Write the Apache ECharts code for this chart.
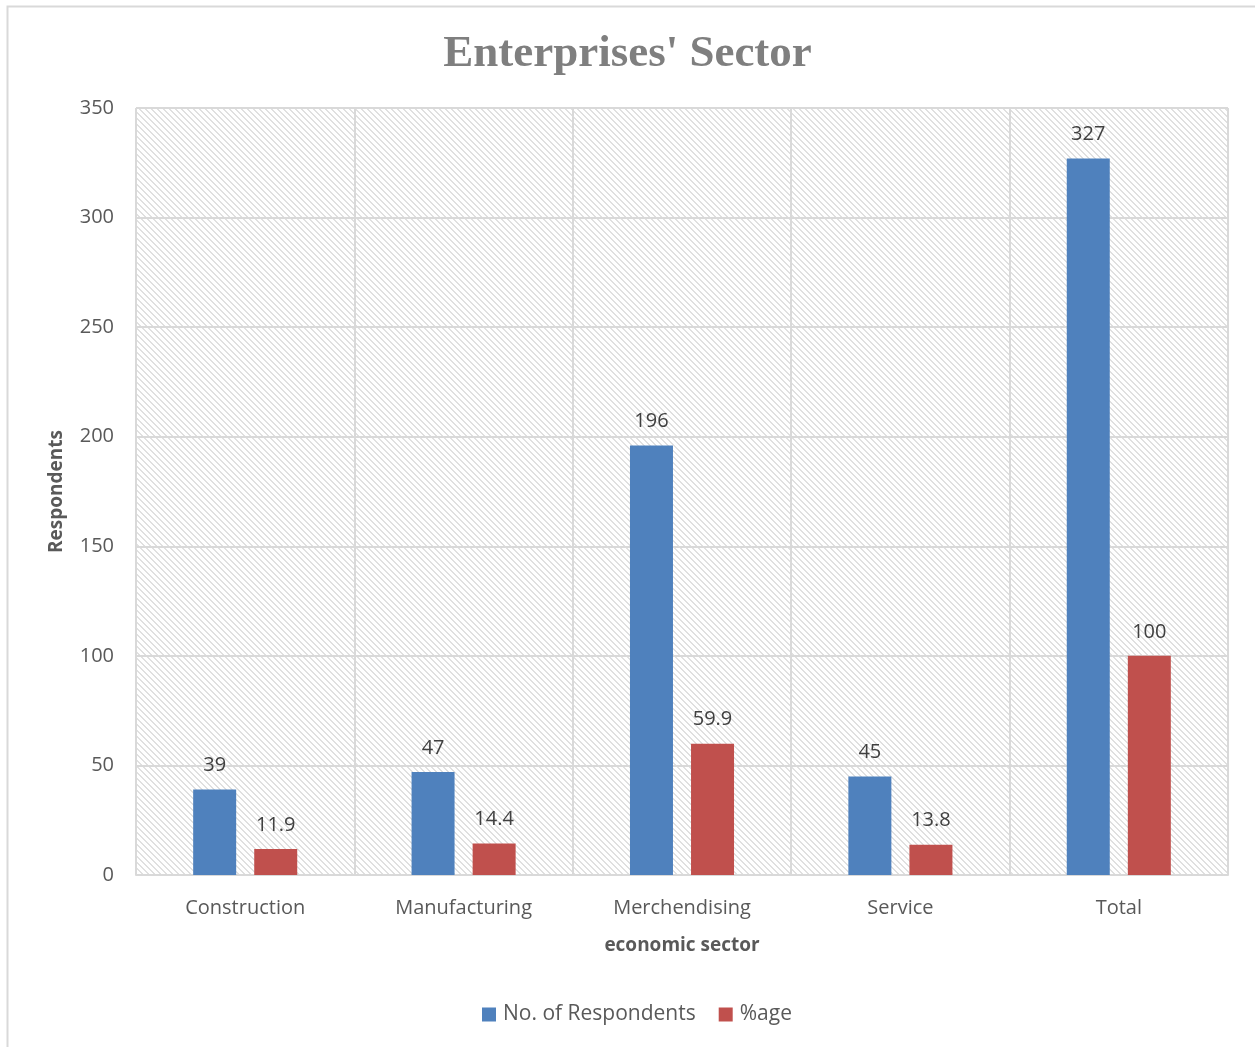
<!DOCTYPE html>
<html>
<head>
<meta charset="utf-8">
<title>Enterprises' Sector</title>
<script src="https://cdn.jsdelivr.net/npm/echarts@6/dist/echarts.min.js"></script>
<style>
  html, body { margin: 0; padding: 0; background: #ffffff; }
  #chart { width: 1255px; height: 1047px; }
</style>
</head>
<body>
<div id="chart"></div>
<script>
// Survey breakdown by economic sector
const categories = ['Construction', 'Manufacturing', 'Merchendising', 'Service', 'Total'];
const respondents = [39, 47, 196, 45, 327];
const percentage = [11.9, 14.4, 59.9, 13.8, 100];
const yTicks = { min: 0, max: 350, step: 50 };

// Light diagonal hatch used as the plot area fill
function hatchTile() {
  const c = document.createElement('canvas');
  const n = 6;
  c.width = n; c.height = n;
  const ctx = c.getContext('2d');
  ctx.fillStyle = '#ffffff';
  ctx.fillRect(0, 0, n, n);
  ctx.fillStyle = '#e0e0e0';
  for (let i = 0; i < n; i++) {
    ctx.fillRect(i, i, 1, 1);
    ctx.fillRect((i + 1) % n, i, 1, 1);
  }
  return c;
}

const chart = echarts.init(document.getElementById('chart'), null, { renderer: 'canvas' });
const labelFont = 'Open Sans, Liberation Sans, sans-serif';

chart.setOption({
  backgroundColor: '#ffffff',
  animation: false,
  title: {
    text: "Enterprises' Sector",
    left: 'center',
    top: 27,
    textStyle: {
      fontFamily: 'Liberation Serif, DejaVu Serif, serif',
      fontWeight: 'bold',
      fontSize: 45,
      color: '#7f7f7f'
    }
  },
  graphic: [{
    type: 'rect',
    left: 5, top: 4,
    shape: { width: 1300, height: 1100 },
    style: { fill: 'none', stroke: '#d9d9d9', lineWidth: 2 },
    silent: true, z: 100
  }],
  legend: {
    bottom: 17,
    left: 477,
    itemWidth: 14,
    itemHeight: 14,
    itemGap: 23,
    icon: 'rect',
    textStyle: { fontFamily: labelFont, fontSize: 21, color: '#595959', padding: [0, 0, 0, 2] },
    data: ['No. of Respondents', '%age']
  },
  grid: {
    left: 136, right: 27, top: 108, bottom: 172,
    show: true,
    borderWidth: 0,
    backgroundColor: { image: hatchTile(), repeat: 'repeat' }
  },
  xAxis: {
    type: 'category',
    data: categories,
    name: 'economic sector',
    nameLocation: 'middle',
    nameGap: 61,
    nameTextStyle: { fontFamily: labelFont, fontSize: 19, fontWeight: 'bold', color: '#595959' },
    axisLine: { lineStyle: { color: '#d9d9d9', width: 2 } },
    axisTick: { show: false },
    axisLabel: { fontFamily: labelFont, fontSize: 20, color: '#595959', margin: 23 },
    splitLine: { show: true, interval: 0, lineStyle: { color: '#d9d9d9', width: 2 } }
  },
  yAxis: {
    type: 'value',
    min: yTicks.min,
    max: yTicks.max,
    interval: yTicks.step,
    name: 'Respondents',
    nameLocation: 'middle',
    nameGap: 70,
    nameRotate: 90,
    nameTextStyle: { fontFamily: labelFont, fontSize: 19, fontWeight: 'bold', color: '#595959' },
    axisLine: { show: false },
    axisTick: { show: false },
    axisLabel: { fontFamily: labelFont, fontSize: 20, color: '#595959', margin: 22 },
    splitLine: { lineStyle: { color: '#d9d9d9', width: 2 } }
  },
  series: [
    {
      name: 'No. of Respondents',
      type: 'bar',
      data: respondents,
      barWidth: 43,
      barGap: '42%',
      itemStyle: { color: '#4f81bd' },
      label: { show: true, position: 'top', distance: 14, fontFamily: labelFont, fontSize: 20, color: '#404040' }
    },
    {
      name: '%age',
      type: 'bar',
      data: percentage,
      barWidth: 43,
      itemStyle: { color: '#c0504d' },
      label: { show: true, position: 'top', distance: 14, fontFamily: labelFont, fontSize: 20, color: '#404040' }
    }
  ]
});
</script>
</body>
</html>
